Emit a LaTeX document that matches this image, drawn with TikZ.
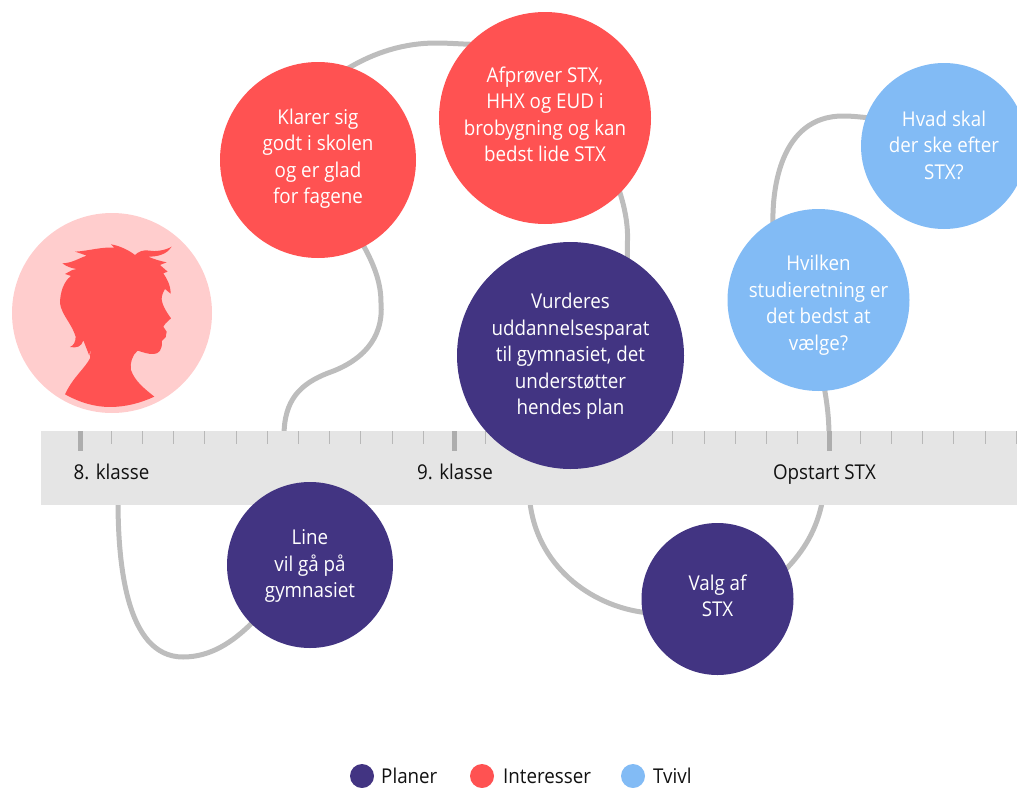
\documentclass[tikz,border=0pt]{standalone}
\usepackage{fontspec}
\setmainfont[FakeStretch=0.92]{Open Sans}
\usetikzlibrary{backgrounds}
\definecolor{planc}{HTML}{423482}
\definecolor{intc}{HTML}{FF5252}
\definecolor{tvc}{HTML}{82BBF5}
\definecolor{pinkc}{HTML}{FFCDCD}
\definecolor{bandc}{HTML}{E5E5E5}
\definecolor{linkc}{HTML}{BDBDBD}
\definecolor{majc}{HTML}{ADADAD}
\definecolor{minc}{HTML}{B8B8B8}
\definecolor{inkc}{HTML}{111111}
\tikzset{
  x=1pt,y=-1pt,
  bubble/.style={circle,inner sep=0pt,minimum size=2*#1},
  planbub/.style={bubble=#1,fill=planc},
  intbub/.style={bubble=#1,fill=intc},
  tvbub/.style={bubble=#1,fill=tvc},
  lbl/.style={text=white,align=center,inner sep=0pt,font=\fontsize{20.4}{26.5}\selectfont},
  axislbl/.style={text=inkc,anchor=base,inner sep=0pt,font=\fontsize{20.4}{24}\selectfont},
  leglbl/.style={text=inkc,anchor=base west,inner sep=0pt,font=\fontsize{20.4}{24}\selectfont},
  link/.style={draw=linkc,line width=5pt,shorten >=-3pt,shorten <=-3pt},
  swatch/.style={circle,inner sep=0pt,minimum size=24pt},
}
\begin{document}
\begin{tikzpicture}
\useasboundingbox (0,0) rectangle (1017,787);
% bubbles
\node[intbub=98pt,label={[lbl,yshift=1.2pt]center:{Klarer sig\\godt i skolen\\og er glad\\for fagene}}] (klarer) at (318,160) {};
\node[intbub=106pt,label={[lbl,yshift=3.5pt]center:{Afprøver STX,\\HHX og EUD i\\brobygning og kan\\bedst lide STX}}] (afprover) at (545,118) {};
\node[planbub=113.5pt,label={[lbl,yshift=-1pt]center:{Vurderes\\uddannelsesparat\\til gymnasiet, det\\understøtter\\hendes plan}}] (vurderes) at (570.5,355.5) {};
\node[tvbub=83pt,label={[lbl,yshift=1pt]center:{Hvad skal\\der ske efter\\STX?}}] (hvad) at (944,146) {};
\node[tvbub=91pt,label={[lbl,yshift=-5pt]center:{Hvilken\\studieretning er\\det bedst at\\vælge?}}] (hvilken) at (818.5,300) {};
\node[planbub=83pt,label={[lbl,yshift=-1pt]center:{Line\\vil gå på\\gymnasiet}}] (line) at (310,565) {};
\node[planbub=76pt,label={[lbl,yshift=3pt]center:{Valg af\\STX}}] (valg) at (717.5,599) {};
% axis labels
\node[axislbl] (k8) at (111.5,479) {8. klasse};
\node[axislbl] (k9) at (455,479) {9. klasse};
\node[axislbl] (opstart) at (824.5,479) {Opstart STX};
% free ends on the band
\coordinate (b1) at (118,503);
\coordinate (b2) at (284,433);
\coordinate (b5) at (530,503);
\coordinate (b6) at (822,503);
\coordinate (b7) at (829,433);
% portrait
\node[circle,fill=pinkc,inner sep=0pt,minimum size=200pt] (portrait) at (112,313) {};
\begin{scope}[shift={(55,235)},x=0.3333pt,y=-0.3333pt]
\fill[intc]
 (30,478) .. controls (75,503) and (120,516) .. (165,516) .. controls (210,516) and (255,505) .. (298,485)
 .. controls (270,462) and (240,440) .. (228,405) .. controls (224,385) and (232,360) .. (248,347)
 .. controls (265,352) and (280,358) .. (295,357) .. controls (312,357) and (322,345) .. (321,318)
 -- (332,307) -- (335,290) -- (325,275) -- (332,265) -- (348,250)
 .. controls (340,238) and (322,215) .. (320,192) .. controls (320,182) and (325,170) .. (330,162)
 -- (347,176) .. controls (347,150) and (335,130) .. (325,115) -- (338,110) -- (315,90) -- (335,82)
 .. controls (315,78) and (295,72) .. (280,65) .. controls (310,65) and (335,58) .. (350,35)
 .. controls (330,47) and (300,50) .. (285,47) .. controls (265,43) and (250,50) .. (240,60)
 .. controls (225,48) and (195,32) .. (168,28) -- (178,38)
 .. controls (140,35) and (100,48) .. (60,50) .. controls (75,55) and (85,58) .. (95,62)
 .. controls (75,68) and (50,85) .. (22,85) .. controls (35,95) and (50,100) .. (65,102)
 -- (52,105) -- (30,117)  -- (48,123)
 .. controls (25,140) and (15,175) .. (15,205) .. controls (20,240) and (50,265) .. (62,305)
 .. controls (62,322) and (55,332) .. (45,336) .. controls (65,340) and (80,335) .. (85,316)
 -- (103,362) -- (107,335) -- (105,370)
 .. controls (90,400) and (55,425) .. (30,478) -- cycle;
\end{scope}
% legend
\node[swatch,fill=planc] (leg1) at (362,776) {};
\node[swatch,fill=intc] (leg2) at (482,776) {};
\node[swatch,fill=tvc] (leg3) at (633,776) {};
\node[leglbl] (leg1t) at (381,783) {Planer};
\node[leglbl] (leg2t) at (503,783) {Interesser};
\node[leglbl] (leg3t) at (653,783) {Tvivl};
\begin{pgfonlayer}{background}
% connectors
\draw[link] (b1) .. controls (118,560) and (125,657) .. (183,657) .. controls (210,657) and (232,643) .. (line.225);
\draw[link] (klarer.-62) .. controls (376,268) and (381,285) .. (381,303) .. controls (384,340) and (360,362) .. (328,373) .. controls (300,384) and (284,400) .. (b2);
\draw[link] (klarer.71) .. controls (375,52) and (405,43) .. (436,43) .. controls (448,43) and (460,44) .. (afprover.136);
\draw[link] (afprover.-45) .. controls (625,208) and (628,225) .. (627.5,240) .. controls (627.5,246) and (627,252) .. (vurderes.60);
\draw[link] (b5) .. controls (536,565) and (590,606) .. (valg.190);
\draw[link] (valg.24) .. controls (803,552) and (817,530) .. (b6);
\draw[link] (hvilken.-86) .. controls (827,403) and (829,418) .. (b7);
\draw[link] (hvilken.120) .. controls (772,190) and (780,116) .. (843,116) .. controls (852,116) and (860,117) .. (hvad.160);
% band and ticks
\fill[bandc] (41,431) rectangle (1017,505);
\foreach \i in {0,...,30}{
  \draw[minc,line width=1pt] ({80+31.21*\i},431) -- ++(0,13);
}
\foreach \i in {0,12,24}{
  \draw[majc,line width=5pt] ({80+31.21*\i},431) -- ++(0,20);
}
\end{pgfonlayer}
\end{tikzpicture}
\end{document}
